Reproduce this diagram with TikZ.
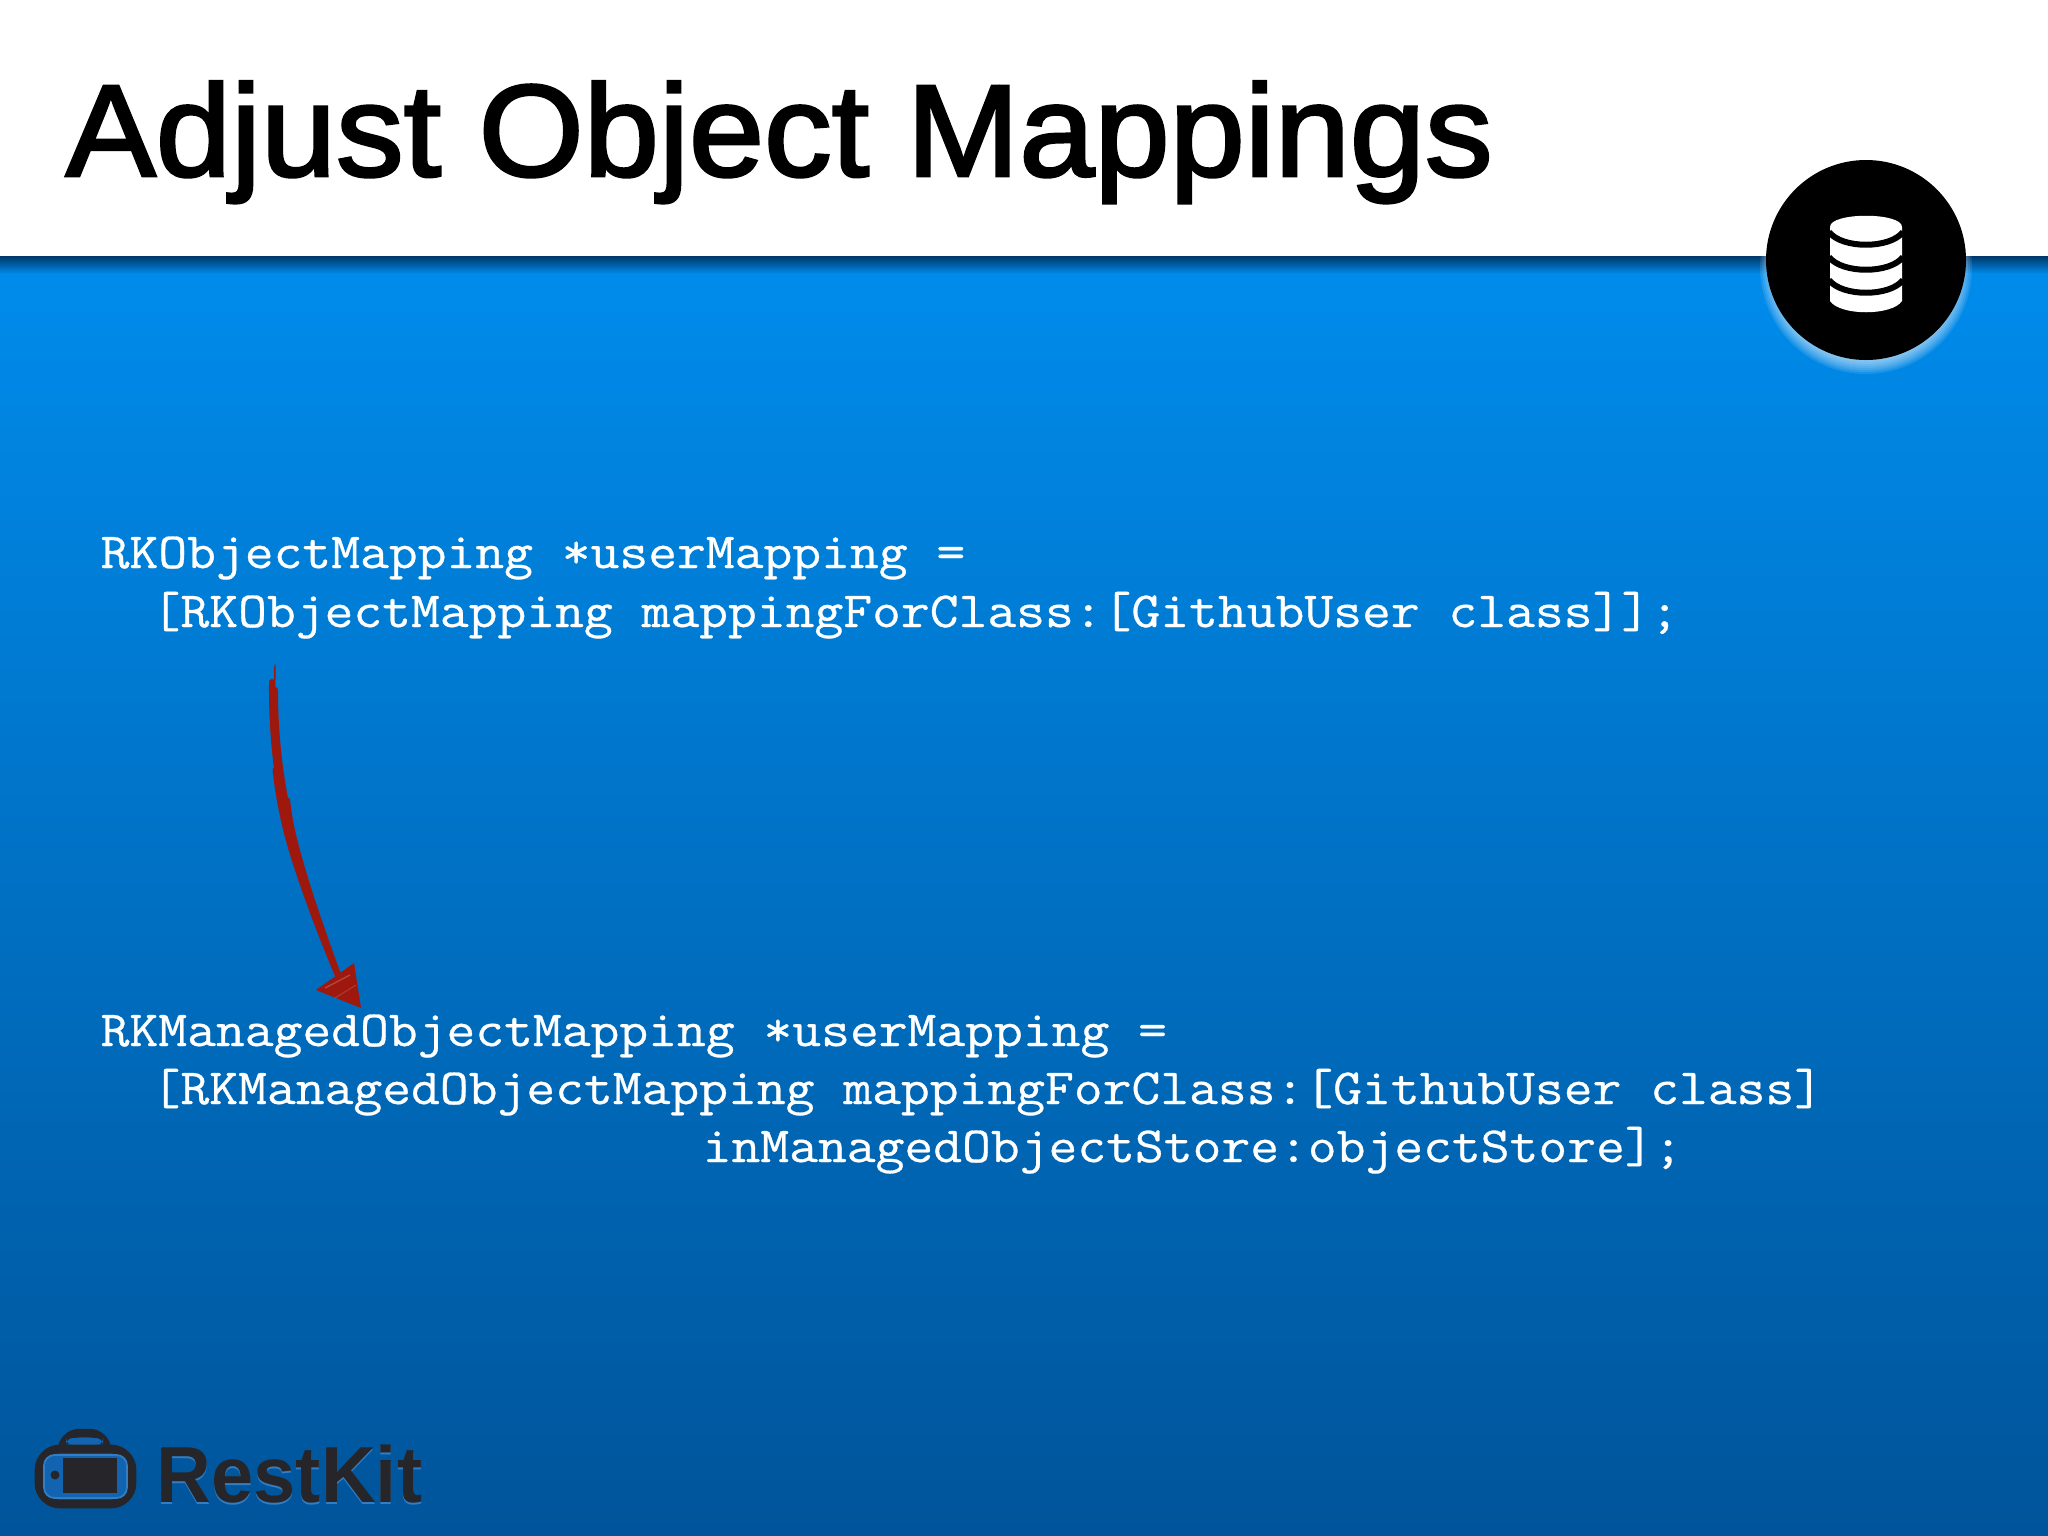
\documentclass[tikz,border=0pt]{standalone}
\usepackage{fontspec}
\setmainfont{Liberation Sans}
\newfontfamily\codefont[FakeStretch=1.105,FakeBold=0.6]{Latin Modern Mono}
\newfontfamily\titlefont[FakeStretch=1.033,FakeBold=2.2]{Liberation Sans}
\usetikzlibrary{calc}
\definecolor{bgtop}{RGB}{0,140,236}
\definecolor{bgbot}{RGB}{0,84,154}
\definecolor{shadowtop}{RGB}{0,55,105}
\definecolor{arrowred}{RGB}{158,24,14}
\definecolor{logodark}{RGB}{38,38,42}
\definecolor{logoedge}{RGB}{50,125,195}
\definecolor{logofill}{RGB}{18,100,176}
\tikzset{
  x=0.01cm,y=-0.01cm,
  titletext/.style={anchor=base west,inner sep=0pt,font=\titlefont\fontsize{37.2}{40}\selectfont,text=black},
  codetext/.style={anchor=base west,inner sep=0pt,font=\codefont\fontsize{14.4}{16}\selectfont,text=white},
  logotext/.style={anchor=base west,inner sep=0pt,font=\bfseries\fontsize{22.6}{24}\selectfont,xscale=.955},
  sketch/.style={draw=arrowred,line cap=round,line join=round},
  dbband/.style={draw=black,line width=1.7pt},
}
\begin{document}
\begin{tikzpicture}
\useasboundingbox (0,0) rectangle (2048,1536);
% background
\shade[top color=bgtop,bottom color=bgbot] (0,256) rectangle (2048,1536);
\shade[top color=shadowtop,bottom color=bgtop] (0,256) rectangle (2048,274);
\fill[white] (0,0) rectangle (2048,256);
% title
\node[titletext] (title) at (65,176) {Adjust Object Mappings};
% badge
\coordinate (bc) at (1866,260);
\foreach \r in {92,94,...,106}{\fill[white,opacity=.1] ($(bc)+(0,8)$) circle[radius=\r];}
\fill[black] (bc) circle[radius=100];
% database icon
\fill[white] (1830,227) .. controls (1830,212) and (1902,212) .. (1902,227)
  -- (1902,301) .. controls (1892,316) and (1840,316) .. (1830,301) -- cycle;
\draw[dbband] (1829,232) .. controls (1842,249) and (1890,249) .. (1903,232);
\draw[dbband] (1829,257) .. controls (1842,274) and (1890,274) .. (1903,257);
\draw[dbband] (1829,280) .. controls (1842,297) and (1890,297) .. (1903,280);
% code
\node[codetext] (l1) at (100,568) {RKObjectMapping *userMapping =};
\node[codetext] (l2) at (151,627) {[RKObjectMapping mappingForClass:[GithubUser class]];};
\node[codetext] (l3) at (100,1046) {RKManagedObjectMapping *userMapping =};
\node[codetext] (l4) at (151,1104) {[RKManagedObjectMapping mappingForClass:[GithubUser class]};
\node[codetext] (l5) at (702,1162) {inManagedObjectStore:objectStore];};
% arrow
\coordinate (astart) at (275,665);
\coordinate (aend) at (338,975);
\coordinate (tipa) at (361,1008);
\coordinate (tipb) at (316,990);
\coordinate (tipc) at (354,963);
\draw[sketch,line width=.4pt] (astart) .. controls (272,800) and (300,885) .. (aend);
\draw[sketch,line width=1.7pt] (272,682) .. controls (271,800) and (300,885) .. (aend);
\draw[sketch,line width=1.7pt] (275,690) .. controls (275,800) and (304,880) .. (aend);
\draw[sketch,line width=1.4pt] (275,770) .. controls (282,830) and (295,870) .. (336,972);
\draw[sketch,line width=1.2pt] (288,800) .. controls (291,830) and (301,870) .. (318,925);
\fill[arrowred] (tipa) -- (tipb) -- (tipc) -- cycle;
\draw[white,opacity=.22,line width=.35pt] (325,988) -- (350,975);
\draw[white,opacity=.15,line width=.3pt] (335,998) -- (356,985);
% logo
\draw[logodark,line width=2.4pt,rounded corners=5pt] (62,1449) -- (62,1433) -- (107,1433) -- (107,1449);
\fill[logofill,rounded corners=2pt] (66,1445) -- (66,1438) -- (103,1438) -- (103,1445) -- cycle;
\draw[logodark,line width=2.5pt,rounded corners=6pt] (39,1449) rectangle (132,1504);
\draw[logoedge,fill=logofill,line width=.5pt,rounded corners=3pt] (44,1455) rectangle (127,1498);
\fill[logodark] (63,1458) rectangle (117,1493);
\fill[logodark] (55,1475) circle[radius=4.5];
\node[logotext,text=logoedge] (logoshadow) at (156,1504) {RestKit};
\node[logotext,text=logodark] (logo) at (156,1502) {RestKit};
\end{tikzpicture}
\end{document}
